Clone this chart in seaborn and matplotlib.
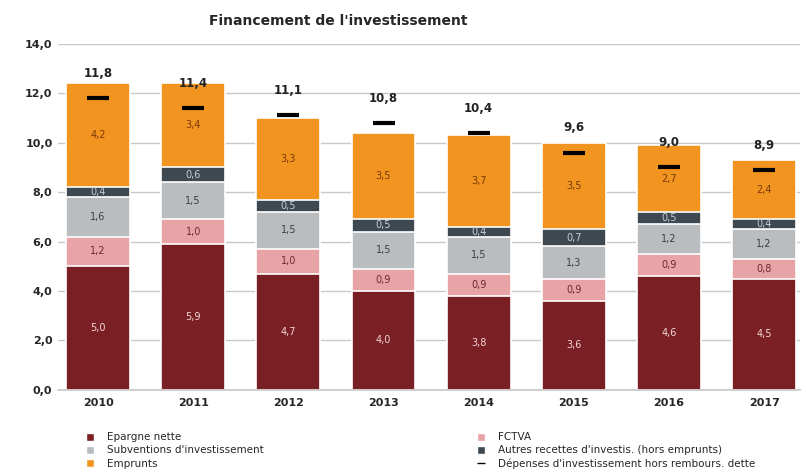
import matplotlib
matplotlib.use("Agg")
import matplotlib.pyplot as plt
from matplotlib.patches import Patch
from matplotlib.lines import Line2D
import seaborn as sns
import numpy as np
import pandas as pd

years = ["2010", "2011", "2012", "2013", "2014", "2015", "2016", "2017"]
epargne = [5.0, 5.9, 4.7, 4.0, 3.8, 3.6, 4.6, 4.5]
fctva = [1.2, 1.0, 1.0, 0.9, 0.9, 0.9, 0.9, 0.8]
subventions = [1.6, 1.5, 1.5, 1.5, 1.5, 1.3, 1.2, 1.2]
autres = [0.4, 0.6, 0.5, 0.5, 0.4, 0.7, 0.5, 0.4]
emprunts = [4.2, 3.4, 3.3, 3.5, 3.7, 3.5, 2.7, 2.4]
depenses = [11.8, 11.4, 11.1, 10.8, 10.4, 9.6, 9.0, 8.9]

series = [
    ("Epargne nette", epargne, "#7a2024", "#f2d6d6"),
    ("FCTVA", fctva, "#e8a3a6", "#6b2a2a"),
    ("Subventions d'investissement", subventions, "#b9bdbf", "#3a3f44"),
    ("Autres recettes d'investis. (hors emprunts)", autres, "#3d4850", "#c9ced2"),
    ("Emprunts", emprunts, "#f29420", "#7a3a08"),
]

sns.set_theme(style="white")
plt.rcParams["font.family"] = ["DejaVu Sans"]

fig = plt.figure(figsize=(8.06, 4.76), dpi=100)
ax = fig.add_axes([0.072, 0.181, 0.921, 0.727])

df = pd.DataFrame({"annee": years})
cum = np.zeros(len(years))
cums = []
for name, vals, col, tcol in series:
    cum = cum + np.array(vals)
    cums.append(cum.copy())

# draw cumulative bars from the top down so each layer covers the next
for (name, vals, col, tcol), c in reversed(list(zip(series, cums))):
    df["v"] = c
    sns.barplot(data=df, x="annee", y="v", color=col, width=0.67,
                edgecolor="white", linewidth=1.2, saturation=1, ax=ax, zorder=2)

# segment labels
bottom = np.zeros(len(years))
for name, vals, col, tcol in series:
    for i, v in enumerate(vals):
        ax.text(i, bottom[i] + v / 2, f"{v:.1f}".replace(".", ","),
                ha="center", va="center", fontsize=7, color=tcol, zorder=4)
    bottom = bottom + np.array(vals)

# dépenses markers and totals
df["dep"] = depenses
sns.scatterplot(data=df, x="annee", y="dep", marker="_", s=260, color="black",
                linewidth=3, ax=ax, zorder=5, legend=False)
for i, d in enumerate(depenses):
    ax.text(i, d + 1.0, f"{d:.1f}".replace(".", ","), ha="center", va="center",
            fontsize=8.5, fontweight="bold", color="#222222", zorder=5)

ax.set_ylim(0, 14)
ax.set_xlim(-0.42, 7.38)
ax.set_yticks(np.arange(0, 15, 2))
ax.set_yticklabels([f"{t:.1f}".replace(".", ",") for t in np.arange(0, 15, 2)],
                   fontsize=8, fontweight="bold")
ax.set_xticklabels(years, fontsize=8, fontweight="bold")
ax.tick_params(axis="x", length=0, pad=6)
ax.tick_params(axis="y", length=0, pad=4)
ax.set_xlabel("")
ax.set_ylabel("")
ax.yaxis.grid(True, color="#c8c8c8", linewidth=1, zorder=0)
ax.set_axisbelow(True)
for s in ["top", "right", "left"]:
    ax.spines[s].set_visible(False)
ax.spines["bottom"].set_color("#c8c8c8")

fig.text(0.42, 0.955, "Financement de l'investissement", ha="center", va="center",
         fontsize=10, fontweight="bold")

handles = [
    Patch(facecolor=series[0][2], label="Epargne nette"),
    Patch(facecolor=series[2][2], label="Subventions d'investissement"),
    Patch(facecolor=series[4][2], label="Emprunts"),
    Patch(facecolor=series[1][2], label="FCTVA"),
    Patch(facecolor=series[3][2], label="Autres recettes d'investis. (hors emprunts)"),
    Line2D([], [], color="black", marker="_", linestyle="none", markersize=6,
           label="Dépenses d'investissement hors rembours. dette"),
]
fig.legend(handles=handles, ncol=2, loc="lower left", bbox_to_anchor=(0.095, -0.005),
           frameon=False, fontsize=7.5, handlelength=0.8, handleheight=0.8,
           handletextpad=1.2, columnspacing=20.5, labelspacing=0.3)

fig.savefig("out.png", dpi=100)
